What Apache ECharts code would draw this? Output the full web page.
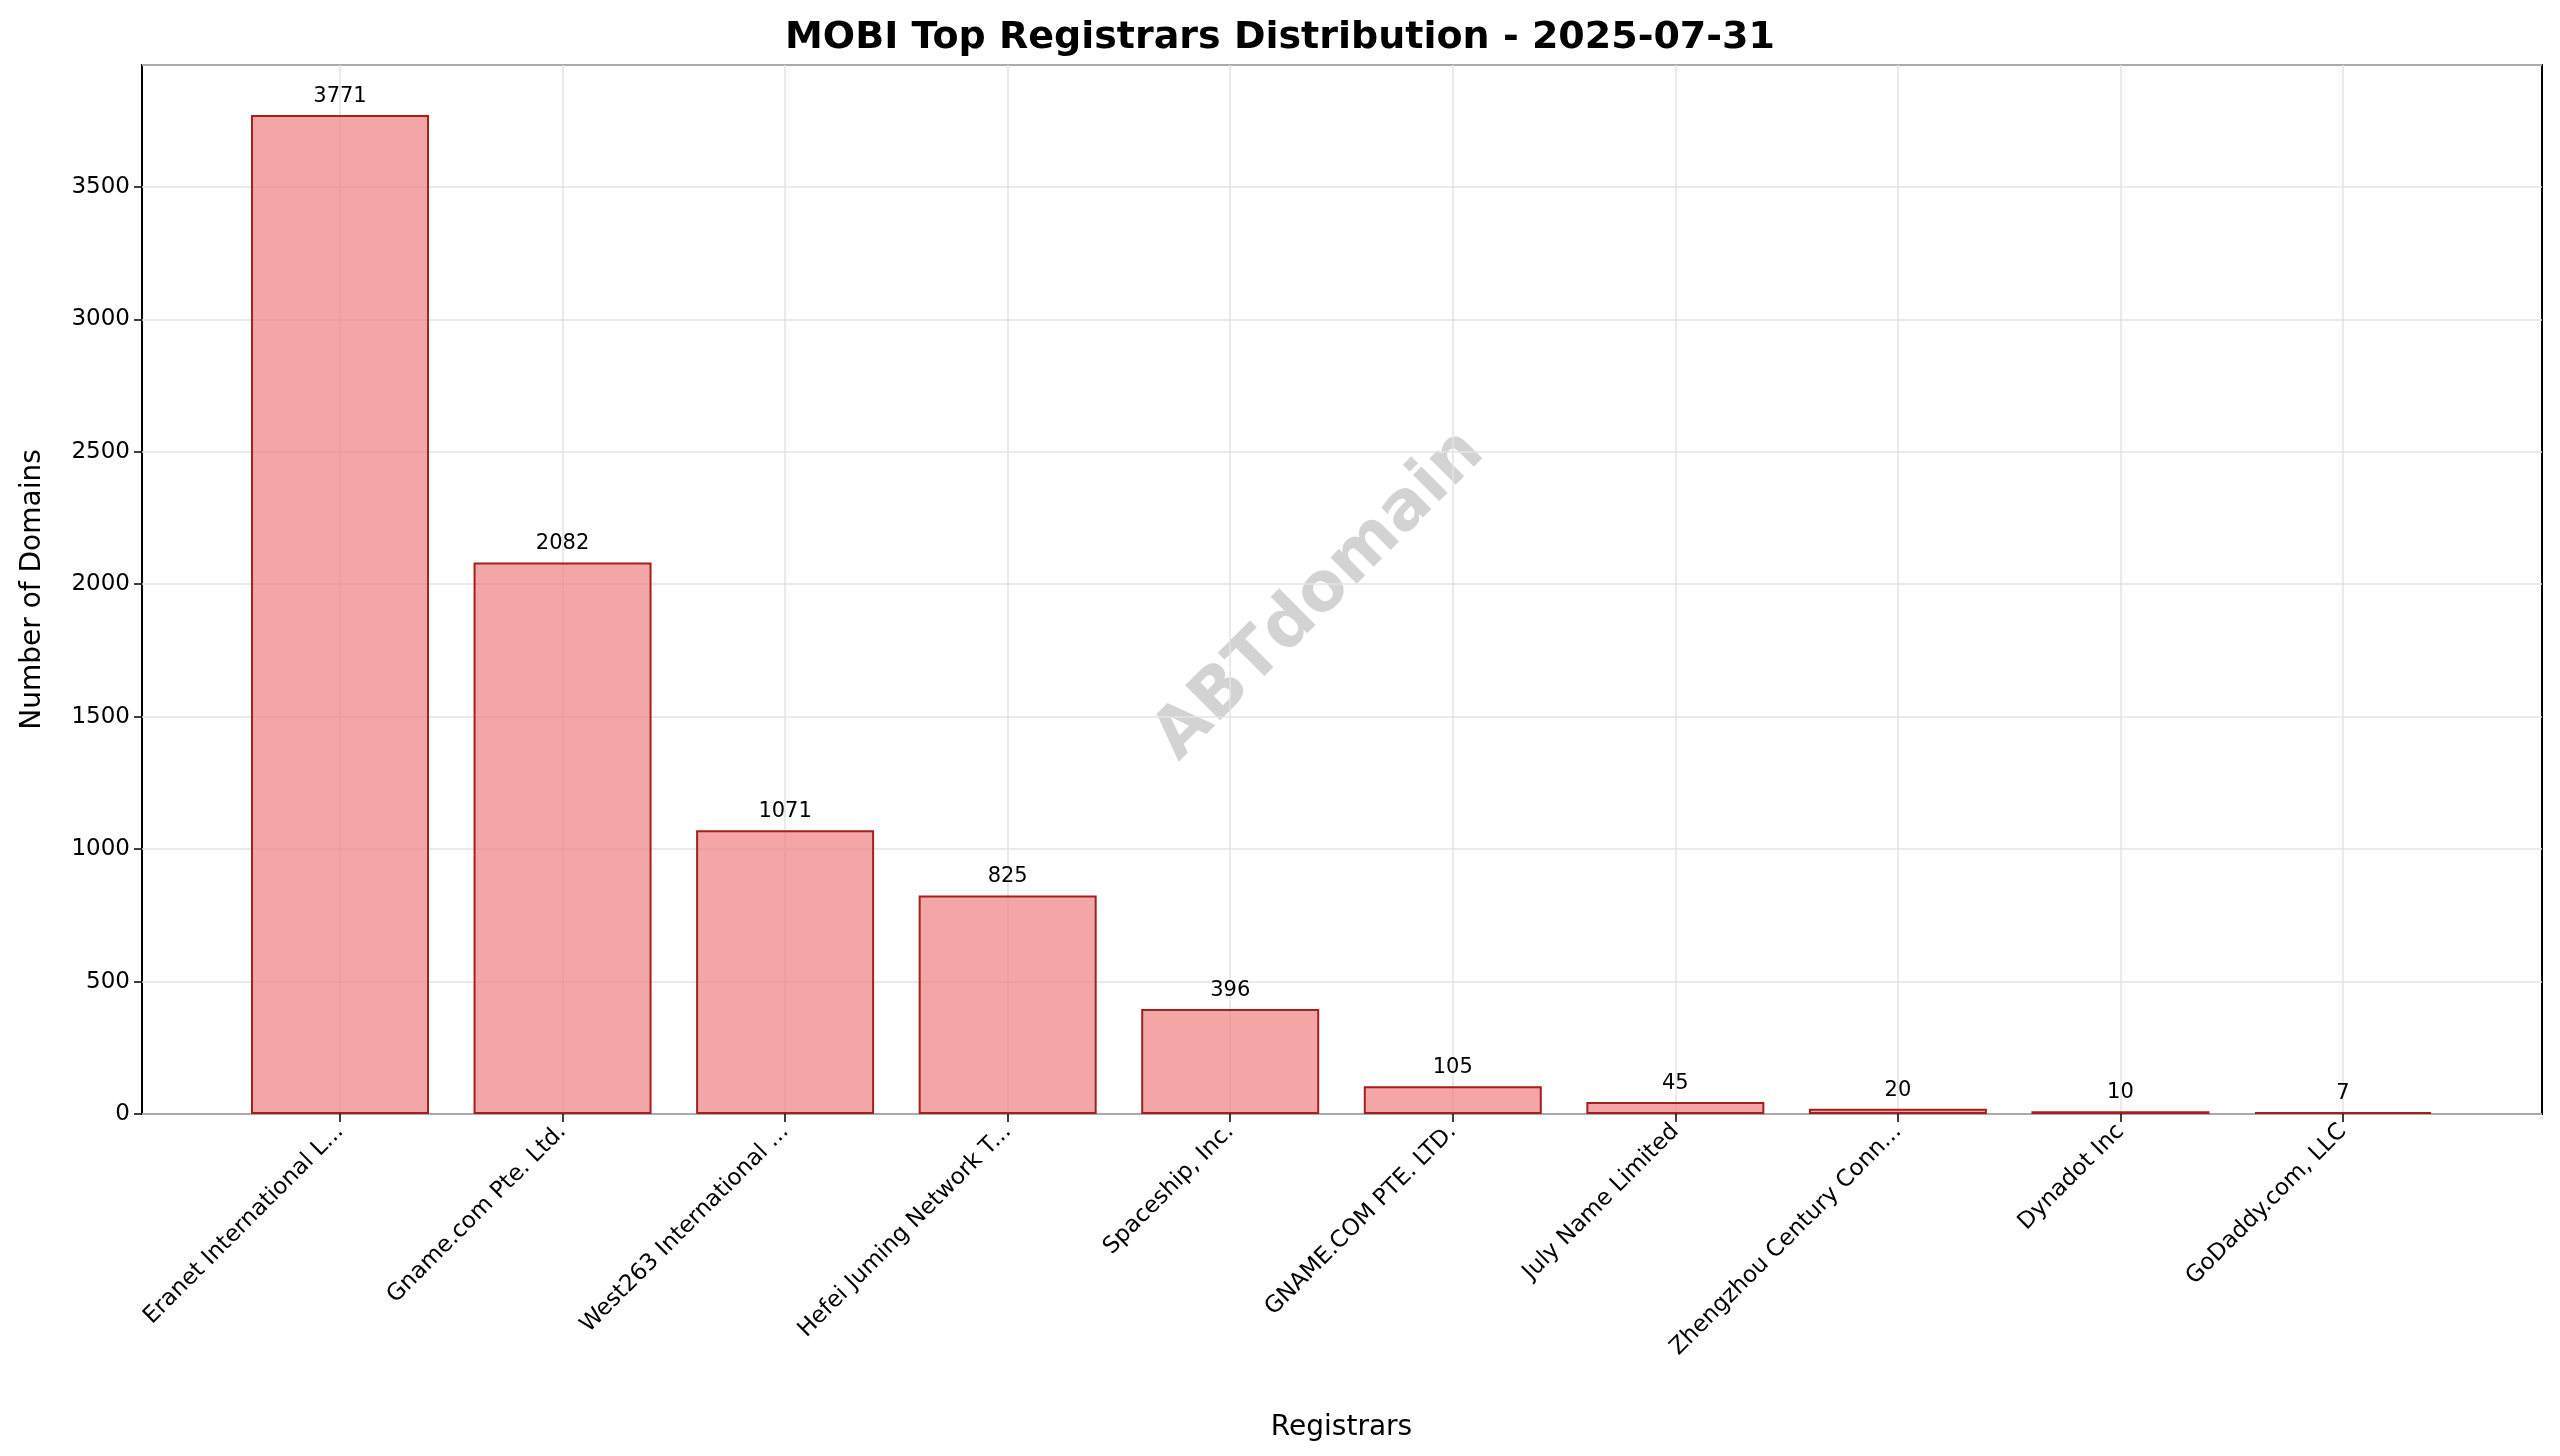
<!DOCTYPE html>
<html><head><meta charset="utf-8">
<script src="https://cdn.jsdelivr.net/npm/echarts@6/dist/echarts.min.js"></script>
<style>html,body{margin:0;padding:0;background:#fff}#c{width:2560px;height:1456px}</style>
</head><body><div id="c"></div>
<script>
const categories = ["Eranet International L...","Gname.com Pte. Ltd.","West263 International ...","Hefei Juming Network T...","Spaceship, Inc.","GNAME.COM PTE. LTD.","July Name Limited","Zhengzhou Century Conn...","Dynadot Inc","GoDaddy.com, LLC"];
const values = [3771,2082,1071,825,396,105,45,20,10,7];
const yMax = 3960;
const font = 'DejaVu Sans';
const chart = echarts.init(document.getElementById('c'));
chart.setOption({
  animation:false,
  textStyle:{fontFamily:font},
  title:{text:'MOBI Top Registrars Distribution - 2025-07-31',left:'center',top:14,
    textStyle:{fontFamily:font,fontSize:38,fontWeight:'bold',color:'#000'}},
  grid:[
    {left:142,right:18,top:65,bottom:342,show:true,borderColor:'#000',borderWidth:2,backgroundColor:'transparent'},
    {left:340,right:217,top:65,bottom:342}
  ],
  xAxis:[
    {gridIndex:0,type:'value',min:0,max:1,show:false},
    {gridIndex:1,type:'category',data:categories,boundaryGap:false,
      axisLine:{show:false},
      axisTick:{show:true,length:8,lineStyle:{color:'#000',width:1.5}},
      axisLabel:{rotate:45,fontSize:23,color:'#000',margin:14},
      splitLine:{show:true,lineStyle:{color:'#e3e3e3',width:1.5}},
      name:'Registrars',nameLocation:'middle',nameGap:300,
      nameTextStyle:{fontSize:28,color:'#000'}}
  ],
  yAxis:[
    {gridIndex:0,type:'value',min:0,max:yMax,interval:500,
      axisLine:{show:false},
      axisTick:{show:true,length:8,lineStyle:{color:'#000',width:1.5}},
      axisLabel:{fontSize:23,color:'#000',margin:12,showMaxLabel:false,formatter:v=>String(v)},
      splitLine:{show:true,lineStyle:{color:'#e3e3e3',width:1.5}},
      name:'Number of Domains',nameLocation:'middle',nameGap:95,
      nameTextStyle:{fontSize:28,color:'#000'}},
    {gridIndex:1,type:'value',min:0,max:yMax,show:false}
  ],
  series:[{
    type:'bar',xAxisIndex:1,yAxisIndex:1,data:values,barWidth:178,
    itemStyle:{color:'rgba(240,128,128,0.7)',borderColor:'#a32020',borderWidth:2},
    label:{show:true,position:'top',distance:8,fontSize:21,color:'#000'}
  }],
  graphic:[{type:'text',left:1342-200,top:458-40,rotation:Math.PI/4,originX:200,originY:40,
    style:{text:'ABTdomain',fontSize:68,fontWeight:'bold',fill:'rgba(128,128,128,0.35)',fontFamily:font,
      x:200,y:40,align:'center',verticalAlign:'middle'}}]
});
</script></body></html>
